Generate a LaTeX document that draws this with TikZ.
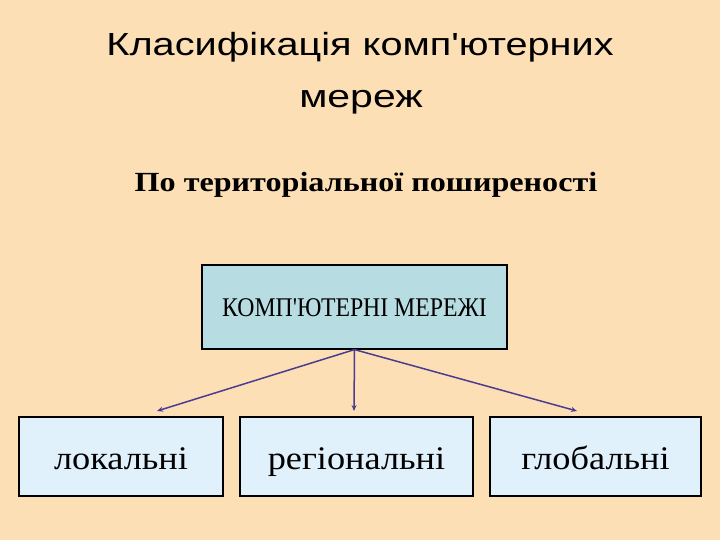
\documentclass[tikz,border=0pt]{standalone}
\usepackage{fontspec}
\setmainfont{Liberation Serif}
\newfontfamily\titlefont{Liberation Sans}
\usetikzlibrary{arrows.meta}
\definecolor{bgpeach}{HTML}{FDDFB6}
\definecolor{topfill}{HTML}{B7DDE3}
\definecolor{botfill}{HTML}{E1F1FC}
\definecolor{arrowcol}{HTML}{4B3C8F}
\begin{document}
\begin{tikzpicture}[x=1pt,y=-1pt,
  boxstyle/.style={draw=black, line width=1.2pt},
  conn/.style={draw=arrowcol, line width=1.5pt, -{Stealth[length=6pt,width=5pt]}},
  ttl/.style={anchor=base, inner sep=0pt, font=\titlefont\fontsize{32}{38}\selectfont},
  lbl/.style={anchor=base, inner sep=0pt}]
\fill[bgpeach] (0,0) rectangle (720,540);
\useasboundingbox (0,0) rectangle (720,540);
% title
\node[ttl] (t1) at (360,56) {\scalebox{1.24}[1]{Класифікація комп'ютерних}};
\node[ttl] (t2) at (361,108) {\scalebox{1.28}[1]{мереж}};
\node[lbl, font=\bfseries\fontsize{27.7}{32}\selectfont] (sub) at (366,192) {\scalebox{1.16}[1]{По територіальної поширеності}};
% top box
\node[boxstyle, fill=topfill, inner sep=0pt, minimum width=305pt, minimum height=84pt] (top) at (354.5,307) {};
\node[lbl, font=\fontsize{27}{32}\selectfont] (toptxt) at (354.5,316) {\scalebox{0.88}[1]{КОМП\textquotesingle ЮТЕРНІ МЕРЕЖІ}};
% bottom boxes
\node[boxstyle, fill=botfill, inner sep=0pt, minimum width=204pt, minimum height=79pt] (loc) at (121,456.5) {};
\node[boxstyle, fill=botfill, inner sep=0pt, minimum width=233pt, minimum height=79pt] (reg) at (356.5,456.5) {};
\node[boxstyle, fill=botfill, inner sep=0pt, minimum width=211pt, minimum height=79pt] (glo) at (595.5,456.5) {};
\node[lbl, font=\fontsize{33}{40}\selectfont] (loct) at (121,469) {\scalebox{1.1}[1]{локальні}};
\node[lbl, font=\fontsize{33}{40}\selectfont] (regt) at (356.5,469) {\scalebox{1.1}[1]{регіональні}};
\node[lbl, font=\fontsize{33}{40}\selectfont] (glot) at (595.5,469) {\scalebox{1.1}[1]{глобальні}};
% connectors
\coordinate (el) at (157,411);
\coordinate (em) at (354,411);
\coordinate (er) at (577,411);
\draw[conn] (top.south) -- (el);
\draw[conn] (top.south) -- (em);
\draw[conn] (top.south) -- (er);
\end{tikzpicture}
\end{document}
